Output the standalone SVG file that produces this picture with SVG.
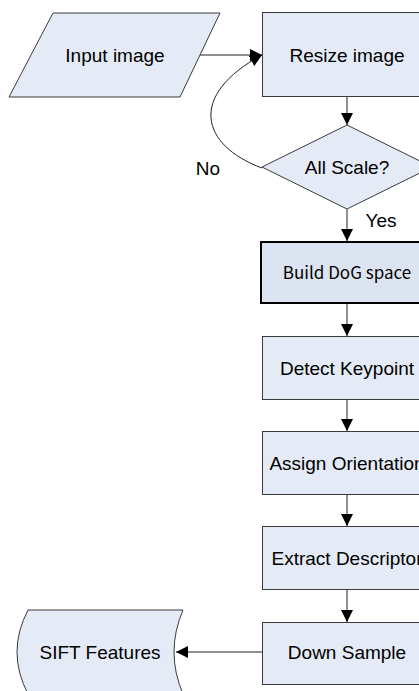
<svg xmlns="http://www.w3.org/2000/svg" width="419" height="691" viewBox="0 0 419 691">
<style>
.n{fill:#E5EBF6;stroke:#3a3a3a;stroke-width:1}
.t{font-family:"Liberation Sans",Arial,sans-serif;font-size:19px;fill:#000;text-anchor:middle}
.c{fill:none;stroke:#222;stroke-width:1}
</style>
<defs>
<marker id="ah" viewBox="0 0 12 12" refX="12" refY="6" markerWidth="12" markerHeight="12" markerUnits="userSpaceOnUse" orient="auto">
<path d="M0,0 L12,6 L0,12 Z" fill="#000"/>
</marker>
</defs>
<rect width="419" height="691" fill="#fff"/>
<g id="connectors">
<line class="c" x1="200" y1="55" x2="262" y2="55" marker-end="url(#ah)"/>
<line class="c" x1="347" y1="97" x2="347" y2="125" marker-end="url(#ah)"/>
<line class="c" x1="347" y1="209" x2="347" y2="241" marker-end="url(#ah)"/>
<line class="c" x1="347" y1="304" x2="347" y2="336" marker-end="url(#ah)"/>
<line class="c" x1="347" y1="399" x2="347" y2="431" marker-end="url(#ah)"/>
<line class="c" x1="347" y1="494" x2="347" y2="526" marker-end="url(#ah)"/>
<line class="c" x1="347" y1="589" x2="347" y2="622" marker-end="url(#ah)"/>
<line class="c" x1="262" y1="652" x2="176" y2="652" marker-end="url(#ah)"/>
<path class="c" d="M262,168 C200,145 188,95 262,55" marker-end="url(#ah)"/>
<text class="t" x="208" y="175">No</text>
<text class="t" x="381" y="227">Yes</text>
</g>
<g id="input">
<polygon class="n" points="53,13 220,13 180,97 9,97"/>
<text class="t" x="115" y="62">Input image</text>
</g>
<g id="resize">
<rect class="n" x="262.5" y="12.5" width="170" height="84"/>
<text class="t" x="347" y="62">Resize image</text>
</g>
<g id="allscale">
<polygon class="n" points="347,125 432,167 347,209 262,167"/>
<text class="t" x="347" y="174">All Scale?</text>
</g>
<g id="dog">
<rect x="261" y="242" width="171" height="61" fill="#DDE4F1" stroke="#000" stroke-width="2"/>
<text x="347" y="279" font-family="'Noto Sans CJK KR','Noto Sans',sans-serif" font-size="17" text-anchor="middle">Build DoG space</text>
</g>
<g id="detect">
<rect class="n" x="262.5" y="336.5" width="170" height="63"/>
<text class="t" x="347" y="375">Detect Keypoint</text>
</g>
<g id="assign">
<rect class="n" x="262.5" y="431.5" width="170" height="63"/>
<text class="t" x="347" y="470">Assign Orientation</text>
</g>
<g id="extract">
<rect class="n" x="262.5" y="526.5" width="170" height="63"/>
<text class="t" x="347" y="565">Extract Descriptor</text>
</g>
<g id="down">
<rect class="n" x="262.5" y="622.5" width="170" height="62"/>
<text class="t" x="347" y="659">Down Sample</text>
</g>
<g id="sift">
<path class="n" d="M28,610 L183,610 Q165,652 183,694 L28,694 Q6,652 28,610 Z"/>
<text class="t" x="100" y="659">SIFT Features</text>
</g>
</svg>
